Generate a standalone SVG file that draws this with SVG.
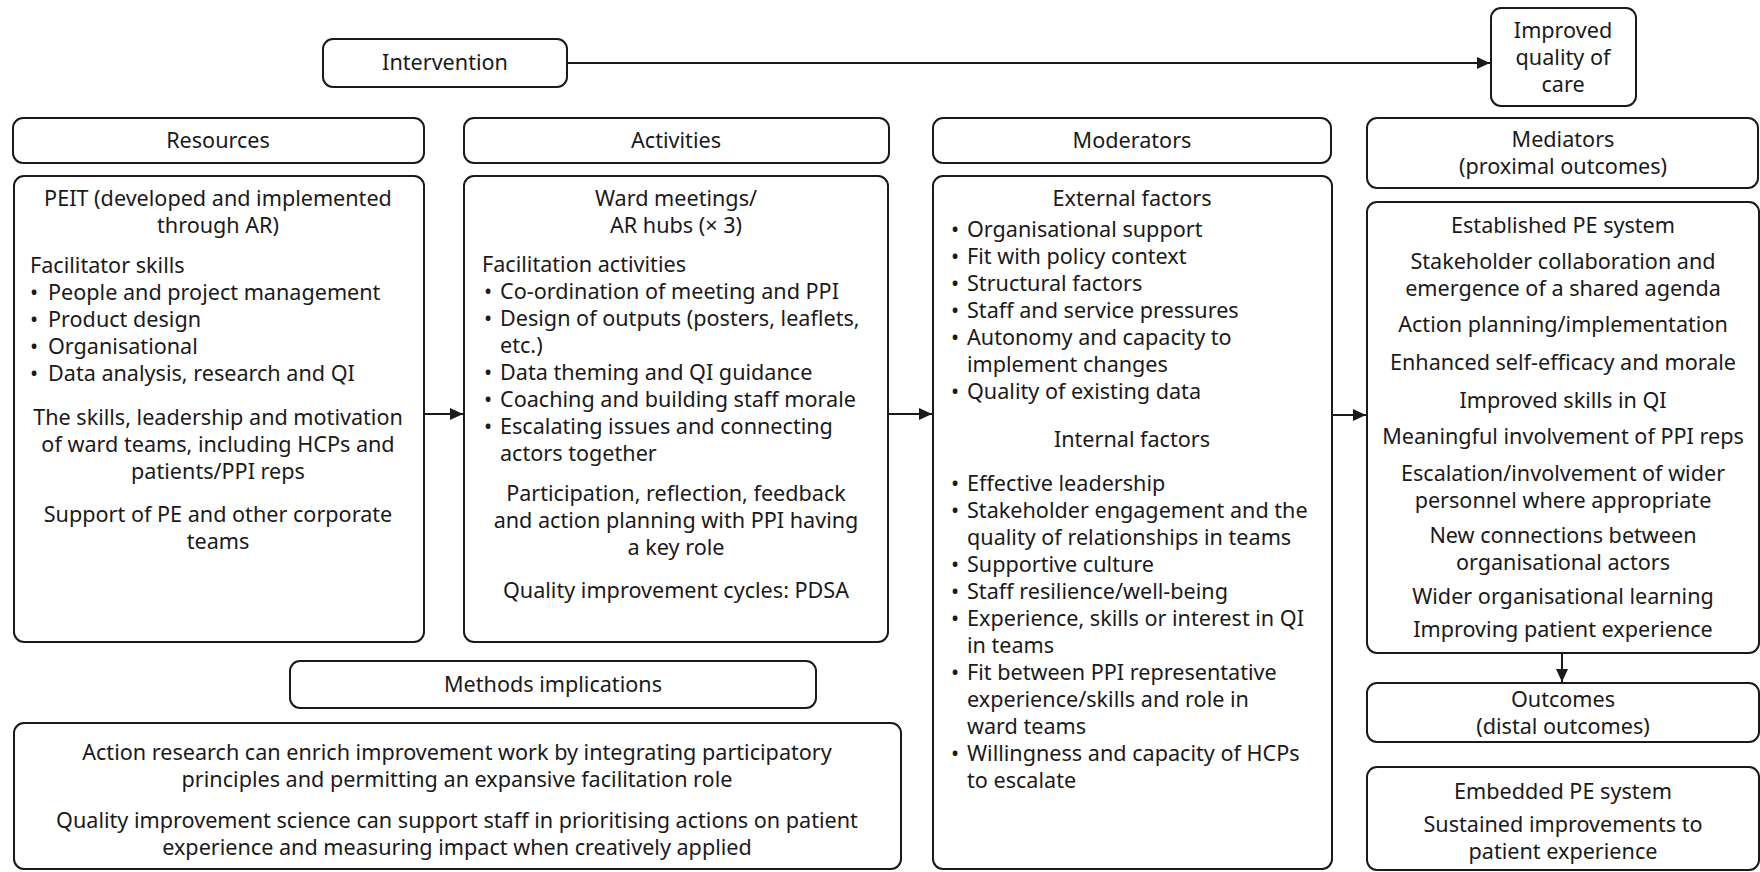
<svg xmlns="http://www.w3.org/2000/svg" width="1760" height="872" viewBox="0 0 1760 872">
<defs>
<style>
.box{fill:#fff;stroke:#1a1a1a;stroke-width:2}
text{font-family:"Noto Sans","Open Sans","DejaVu Sans",sans-serif;font-size:21.6px;fill:#1a1a1a}
.c{text-anchor:middle}
.ln{stroke:#1a1a1a;stroke-width:2;fill:none}
</style>
<marker id="ah" markerUnits="userSpaceOnUse" markerWidth="14" markerHeight="14" viewBox="0 0 14 14" refX="13" refY="7" orient="auto">
<path d="M0,1 L13,7 L0,13 Z" fill="#1a1a1a"/>
</marker>
</defs>
<rect width="1760" height="872" fill="#fff"/>

<g id="connectors">
<line class="ln" x1="567" y1="63" x2="1490" y2="63" marker-end="url(#ah)"/>
<line class="ln" x1="424" y1="414" x2="463" y2="414" marker-end="url(#ah)"/>
<line class="ln" x1="888" y1="414" x2="932" y2="414" marker-end="url(#ah)"/>
<line class="ln" x1="1332" y1="415" x2="1366" y2="415" marker-end="url(#ah)"/>
<line class="ln" x1="1562" y1="653" x2="1562" y2="682" marker-end="url(#ah)"/>
</g>

<g id="intervention">
<rect class="box" x="323" y="39" width="244" height="48" rx="10"/>
<text class="c" x="445" y="70">Intervention</text>
</g>

<g id="improved-quality">
<rect class="box" x="1491" y="8" width="145" height="98" rx="10"/>
<text class="c" x="1563" y="38">Improved</text>
<text class="c" x="1563" y="65">quality of</text>
<text class="c" x="1563" y="92">care</text>
</g>

<g id="resources-header">
<rect class="box" x="13" y="118" width="411" height="45" rx="10"/>
<text class="c" x="218" y="148">Resources</text>
</g>

<g id="activities-header">
<rect class="box" x="464" y="118" width="425" height="45" rx="10"/>
<text class="c" x="676" y="148">Activities</text>
</g>

<g id="moderators-header">
<rect class="box" x="933" y="118" width="398" height="45" rx="10"/>
<text class="c" x="1132" y="148">Moderators</text>
</g>

<g id="mediators-header">
<rect class="box" x="1367" y="118" width="391" height="70" rx="10"/>
<text class="c" x="1563" y="147">Mediators</text>
<text class="c" x="1563" y="174">(proximal outcomes)</text>
</g>

<g id="resources">
<rect class="box" x="14" y="176" width="410" height="466" rx="10"/>
<text class="c" x="218" y="206">PEIT (developed and implemented</text>
<text class="c" x="218" y="233">through AR)</text>
<text x="30" y="273">Facilitator skills</text>
<text x="30" y="300">•<tspan x="48">People and project management</tspan></text>
<text x="30" y="327">•<tspan x="48">Product design</tspan></text>
<text x="30" y="354">•<tspan x="48">Organisational</tspan></text>
<text x="30" y="381">•<tspan x="48">Data analysis, research and QI</tspan></text>
<text class="c" x="218" y="425">The skills, leadership and motivation</text>
<text class="c" x="218" y="452">of ward teams, including HCPs and</text>
<text class="c" x="218" y="479">patients/PPI reps</text>
<text class="c" x="218" y="522">Support of PE and other corporate</text>
<text class="c" x="218" y="549">teams</text>
</g>

<g id="activities">
<rect class="box" x="464" y="176" width="424" height="466" rx="10"/>
<text class="c" x="676" y="206">Ward meetings/</text>
<text class="c" x="676" y="233">AR hubs (× 3)</text>
<text x="482" y="272">Facilitation activities</text>
<text x="484" y="299">•<tspan x="500">Co-ordination of meeting and PPI</tspan></text>
<text x="484" y="326">•<tspan x="500">Design of outputs (posters, leaflets,</tspan></text>
<text x="500" y="353">etc.)</text>
<text x="484" y="380">•<tspan x="500">Data theming and QI guidance</tspan></text>
<text x="484" y="407">•<tspan x="500">Coaching and building staff morale</tspan></text>
<text x="484" y="434">•<tspan x="500">Escalating issues and connecting</tspan></text>
<text x="500" y="461">actors together</text>
<text class="c" x="676" y="501">Participation, reflection, feedback</text>
<text class="c" x="676" y="528">and action planning with PPI having</text>
<text class="c" x="676" y="555">a key role</text>
<text class="c" x="676" y="598">Quality improvement cycles: PDSA</text>
</g>

<g id="moderators">
<rect class="box" x="933" y="176" width="399" height="693" rx="10"/>
<text class="c" x="1132" y="206">External factors</text>
<text x="951" y="237">•<tspan x="967">Organisational support</tspan></text>
<text x="951" y="264">•<tspan x="967">Fit with policy context</tspan></text>
<text x="951" y="291">•<tspan x="967">Structural factors</tspan></text>
<text x="951" y="318">•<tspan x="967">Staff and service pressures</tspan></text>
<text x="951" y="345">•<tspan x="967">Autonomy and capacity to</tspan></text>
<text x="967" y="372">implement changes</text>
<text x="951" y="399">•<tspan x="967">Quality of existing data</tspan></text>
<text class="c" x="1132" y="447">Internal factors</text>
<text x="951" y="491">•<tspan x="967">Effective leadership</tspan></text>
<text x="951" y="518">•<tspan x="967">Stakeholder engagement and the</tspan></text>
<text x="967" y="545">quality of relationships in teams</text>
<text x="951" y="572">•<tspan x="967">Supportive culture</tspan></text>
<text x="951" y="599">•<tspan x="967">Staff resilience/well-being</tspan></text>
<text x="951" y="626">•<tspan x="967">Experience, skills or interest in QI</tspan></text>
<text x="967" y="653">in teams</text>
<text x="951" y="680">•<tspan x="967">Fit between PPI representative</tspan></text>
<text x="967" y="707">experience/skills and role in</text>
<text x="967" y="734">ward teams</text>
<text x="951" y="761">•<tspan x="967">Willingness and capacity of HCPs</tspan></text>
<text x="967" y="788">to escalate</text>
</g>

<g id="mediators">
<rect class="box" x="1367" y="202" width="392" height="451" rx="10"/>
<text class="c" x="1563" y="233">Established PE system</text>
<text class="c" x="1563" y="269">Stakeholder collaboration and</text>
<text class="c" x="1563" y="296">emergence of a shared agenda</text>
<text class="c" x="1563" y="332">Action planning/implementation</text>
<text class="c" x="1563" y="370">Enhanced self-efficacy and morale</text>
<text class="c" x="1563" y="408">Improved skills in QI</text>
<text class="c" x="1563" y="444">Meaningful involvement of PPI reps</text>
<text class="c" x="1563" y="481">Escalation/involvement of wider</text>
<text class="c" x="1563" y="508">personnel where appropriate</text>
<text class="c" x="1563" y="543">New connections between</text>
<text class="c" x="1563" y="570">organisational actors</text>
<text class="c" x="1563" y="604">Wider organisational learning</text>
<text class="c" x="1563" y="637">Improving patient experience</text>
</g>

<g id="outcomes">
<rect class="box" x="1367" y="683" width="392" height="59" rx="10"/>
<text class="c" x="1563" y="707">Outcomes</text>
<text class="c" x="1563" y="734">(distal outcomes)</text>
</g>

<g id="embedded">
<rect class="box" x="1367" y="767" width="392" height="103" rx="10"/>
<text class="c" x="1563" y="799">Embedded PE system</text>
<text class="c" x="1563" y="832">Sustained improvements to</text>
<text class="c" x="1563" y="859">patient experience</text>
</g>

<g id="methods-header">
<rect class="box" x="290" y="661" width="526" height="47" rx="10"/>
<text class="c" x="553" y="692">Methods implications</text>
</g>

<g id="methods">
<rect class="box" x="14" y="723" width="887" height="146" rx="10"/>
<text class="c" x="457" y="760">Action research can enrich improvement work by integrating participatory</text>
<text class="c" x="457" y="787">principles and permitting an expansive facilitation role</text>
<text class="c" x="457" y="828">Quality improvement science can support staff in prioritising actions on patient</text>
<text class="c" x="457" y="855">experience and measuring impact when creatively applied</text>
</g>
</svg>
